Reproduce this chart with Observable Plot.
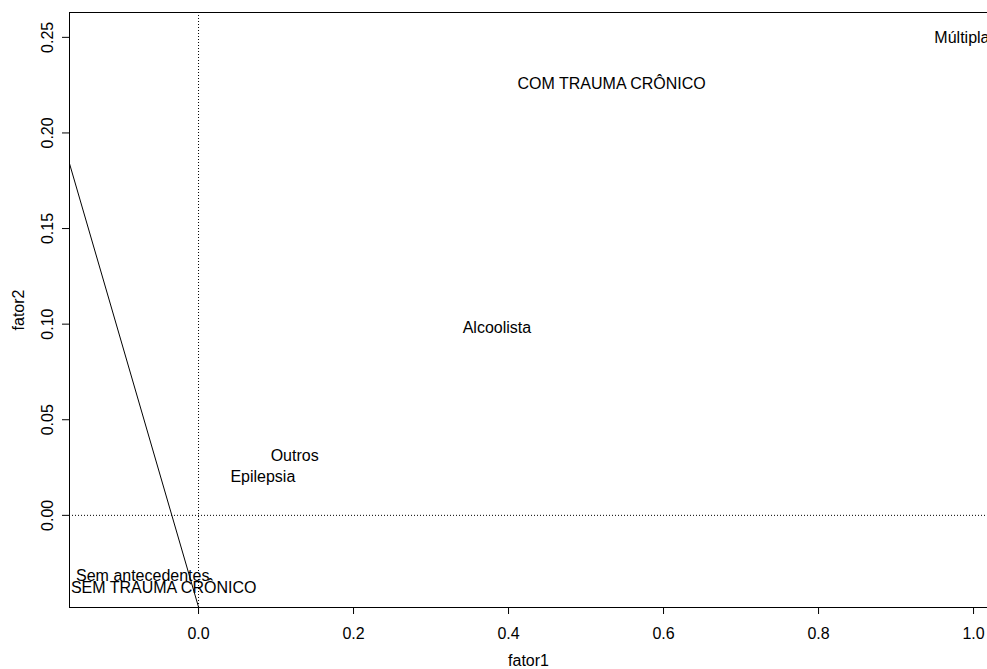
<!DOCTYPE html>
<html>
<head>
<meta charset="utf-8">
<script src="https://cdn.jsdelivr.net/npm/d3@7"></script>
<script src="https://cdn.jsdelivr.net/npm/@observablehq/plot@0.6"></script>
<style>
  html, body { margin: 0; padding: 0; background: #fff; }
  #chart svg { display: block; }
</style>
</head>
<body>
<div id="chart"></div>
<script>
// Category labels and their coordinates (fator1, fator2)
const labels = ["Múltipla", "COM TRAUMA CRÔNICO", "Alcoolista", "Outros", "Epilepsia", "Sem antecedentes", "SEM TRAUMA CRÔNICO"];
const fator1 = [0.985, 0.533, 0.385, 0.124, 0.083, -0.072, -0.045];
const fator2 = [0.2497, 0.2257, 0.0979, 0.0309, 0.0201, -0.0319, -0.0381];

// Straight line drawn through the plot
const lineX = [-0.1665, 0.0];
const lineY = [0.184, -0.048];

// Axis ticks
const xTicks = [0.0, 0.2, 0.4, 0.6, 0.8, 1.0];
const yTicks = [0.00, 0.05, 0.10, 0.15, 0.20, 0.25];
const xTickLabels = ["0.0", "0.2", "0.4", "0.6", "0.8", "1.0"];
const yTickLabels = ["0.00", "0.05", "0.10", "0.15", "0.20", "0.25"];

const xDomain = [-0.1665, 1.018];
const yDomain = [-0.0482, 0.263];

const points = labels.map((t, i) => ({text: t, x: fator1[i], y: fator2[i]}));
const lineData = lineX.map((x, i) => ({x, y: lineY[i]}));
const xTickData = xTicks.map((v, i) => ({v, t: xTickLabels[i]}));
const yTickData = yTicks.map((v, i) => ({v, t: yTickLabels[i]}));

const font = "'Liberation Sans', Arial, Helvetica, sans-serif";

const chart = Plot.plot({
  width: 987,
  height: 669,
  marginLeft: 69,
  marginRight: 0,
  marginTop: 12,
  marginBottom: 62,
  style: {fontFamily: font, fontSize: "16px", color: "#000", background: "#fff"},
  x: {domain: xDomain, axis: null},
  y: {domain: yDomain, axis: null},
  marks: [
    // dotted reference lines
    Plot.ruleX([0], {stroke: "#000", strokeWidth: 1, strokeDasharray: "1,2"}),
    Plot.ruleY([0], {stroke: "#000", strokeWidth: 1, strokeDasharray: "1,2"}),
    // line
    Plot.line(lineData, {x: "x", y: "y", stroke: "#000", strokeWidth: 1, clip: true}),
    // frame (left, top, bottom)
    Plot.ruleX([xDomain[0]], {stroke: "#000", strokeWidth: 1}),
    Plot.ruleY([yDomain[0], yDomain[1]], {stroke: "#000", strokeWidth: 1}),
    // ticks
    Plot.axisX({ticks: xTicks, tickSize: 7, tickFormat: () => "", label: null, stroke: "#000"}),
    Plot.axisY({ticks: yTicks, tickSize: 7, tickFormat: () => "", label: null, stroke: "#000"}),
    // tick labels
    Plot.text(xTickData, {x: "v", text: "t", frameAnchor: "bottom", dy: 26, lineAnchor: "middle", fontSize: 16, fill: "#000"}),
    Plot.text(yTickData, {y: "v", text: "t", frameAnchor: "left", dx: -21.5, rotate: -90, textAnchor: "middle", lineAnchor: "middle", fontSize: 16, fill: "#000"}),
    // axis titles
    Plot.text(["fator1"], {frameAnchor: "bottom", dy: 53, lineAnchor: "middle", fontSize: 16, fill: "#000"}),
    Plot.text(["fator2"], {frameAnchor: "left", dx: -51, rotate: -90, textAnchor: "middle", lineAnchor: "middle", fontSize: 16, fill: "#000"}),
    // point labels
    Plot.text(points, {x: "x", y: "y", text: "text", fontSize: 16, fill: "#000", lineAnchor: "middle", textAnchor: "middle", clip: true})
  ]
});
document.getElementById("chart").appendChild(chart);
</script>
</body>
</html>
